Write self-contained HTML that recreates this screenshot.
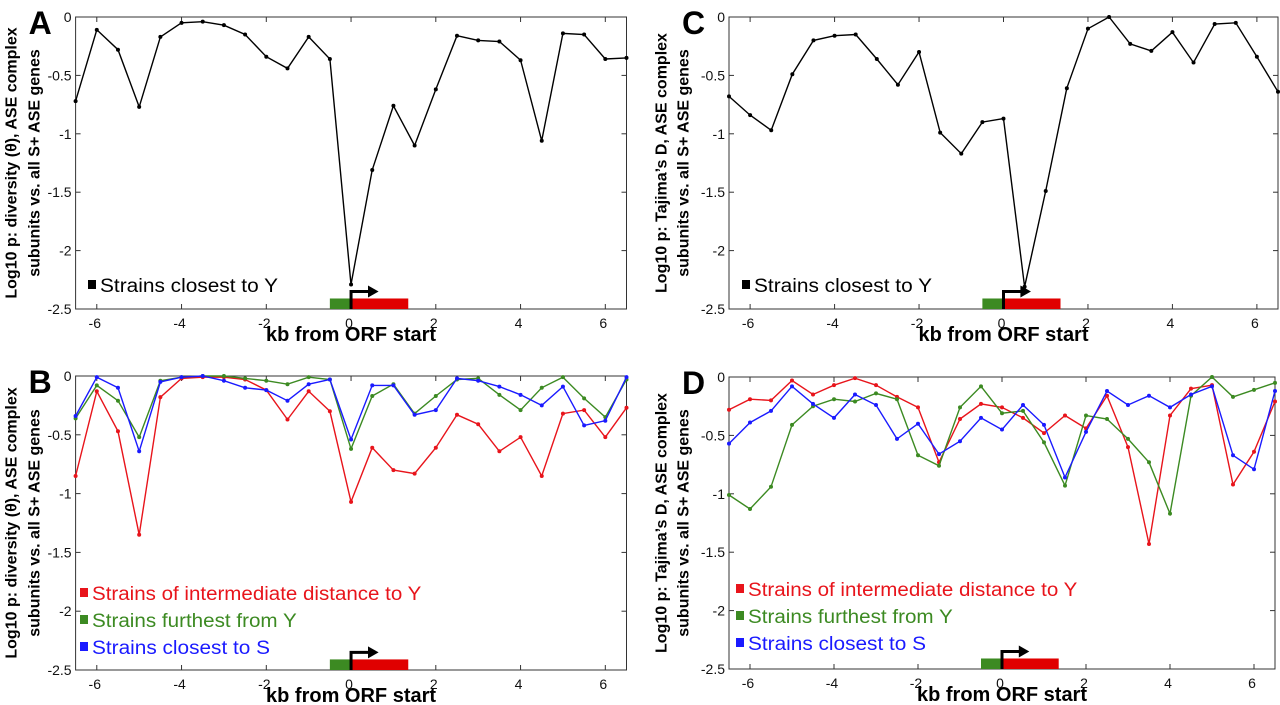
<!DOCTYPE html>
<html><head><meta charset="utf-8"><style>
html,body{margin:0;padding:0;background:#fff}
svg{display:block;font-family:"Liberation Sans",sans-serif}
</style></head><body>
<svg id="fig" width="1280" height="705" viewBox="0 0 1280 705" xmlns="http://www.w3.org/2000/svg"></svg>
<script>
const xs=[-6.5,-6,-5.5,-5,-4.5,-4,-3.5,-3,-2.5,-2,-1.5,-1,-0.5,0,0.5,1,1.5,2,2.5,3,3.5,4,4.5,5,5.5,6,6.5];
const xTicks=[-6,-4,-2,0,2,4,6];
const yTicks=[0,-0.5,-1,-1.5,-2,-2.5];
const aBlack=[-0.72,-0.11,-0.28,-0.77,-0.17,-0.05,-0.04,-0.07,-0.15,-0.34,-0.44,-0.17,-0.36,-2.29,-1.31,-0.76,-1.1,-0.62,-0.16,-0.2,-0.21,-0.37,-1.06,-0.14,-0.15,-0.36,-0.35];
const cBlack=[-0.68,-0.84,-0.97,-0.49,-0.2,-0.16,-0.15,-0.36,-0.58,-0.3,-0.99,-1.17,-0.9,-0.87,-2.31,-1.49,-0.61,-0.1,0,-0.23,-0.29,-0.13,-0.39,-0.06,-0.05,-0.34,-0.64];
const bRed=[-0.85,-0.13,-0.47,-1.35,-0.18,-0.02,-0.01,-0.01,-0.03,-0.12,-0.37,-0.13,-0.3,-1.07,-0.61,-0.8,-0.83,-0.61,-0.33,-0.41,-0.64,-0.52,-0.85,-0.32,-0.29,-0.52,-0.27];
const bGreen=[-0.36,-0.08,-0.21,-0.52,-0.04,-0.01,0,0,-0.02,-0.04,-0.07,-0.01,-0.03,-0.62,-0.17,-0.07,-0.32,-0.17,-0.03,-0.02,-0.16,-0.29,-0.1,-0.01,-0.19,-0.35,-0.03];
const bBlue=[-0.34,-0.01,-0.1,-0.64,-0.05,-0.01,0,-0.04,-0.1,-0.12,-0.21,-0.07,-0.03,-0.54,-0.08,-0.08,-0.33,-0.29,-0.02,-0.04,-0.09,-0.16,-0.25,-0.09,-0.42,-0.38,-0.01];
const dRed=[-0.28,-0.19,-0.2,-0.03,-0.15,-0.07,-0.01,-0.07,-0.17,-0.26,-0.73,-0.36,-0.23,-0.26,-0.35,-0.48,-0.33,-0.44,-0.16,-0.6,-1.43,-0.33,-0.1,-0.07,-0.92,-0.64,-0.21];
const dGreen=[-1.01,-1.13,-0.94,-0.41,-0.25,-0.19,-0.21,-0.14,-0.19,-0.67,-0.76,-0.26,-0.08,-0.31,-0.29,-0.56,-0.93,-0.33,-0.36,-0.53,-0.73,-1.17,-0.16,0,-0.17,-0.11,-0.05];
const dBlue=[-0.57,-0.39,-0.29,-0.08,-0.23,-0.35,-0.15,-0.24,-0.53,-0.4,-0.66,-0.55,-0.35,-0.45,-0.24,-0.41,-0.86,-0.47,-0.12,-0.24,-0.16,-0.26,-0.15,-0.08,-0.67,-0.79,-0.12];

const NS="http://www.w3.org/2000/svg";
const svg=document.getElementById('fig');
function mk(tag,attrs,parent,text){const e=document.createElementNS(NS,tag);for(const k in attrs)e.setAttribute(k,attrs[k]);if(text!==undefined)e.textContent=text;(parent||svg).appendChild(e);return e;}
const RED='#e8141b',GREEN='#3c8a22',BLUE='#1a1aff';
const panels=[
 {id:'a',letter:'A',L:75.6,R:626.5,T:17,B:309,ylab:['Log10 p: diversity (θ), ASE complex','subunits vs. all S+ ASE genes'],lx:[12,35],
  series:[{v:aBlack,c:'#000',n:'closest-to-y'}],legend:[['Strains closest to Y','#000']],legY:292,legX:88},
 {id:'c',letter:'C',L:729,R:1278,T:17,B:309,ylab:['Log10 p: Tajima’s D, ASE complex','subunits vs. all S+ ASE genes'],lx:[662,684],
  series:[{v:cBlack,c:'#000',n:'closest-to-y'}],legend:[['Strains closest to Y','#000']],legY:292,legX:742},
 {id:'b',letter:'B',L:75.6,R:626.5,T:376,B:670,ylab:['Log10 p: diversity (θ), ASE complex','subunits vs. all S+ ASE genes'],lx:[12,35],
  series:[{v:bRed,c:RED,n:'intermediate'},{v:bGreen,c:GREEN,n:'furthest'},{v:bBlue,c:BLUE,n:'closest-to-s'}],
  legend:[['Strains of intermediate distance to Y',RED],['Strains furthest from Y',GREEN],['Strains closest to S',BLUE]],legY:600,legX:80},
 {id:'d',letter:'D',L:729,R:1275,T:377,B:669,ylab:['Log10 p: Tajima’s D, ASE complex','subunits vs. all S+ ASE genes'],lx:[662,684],
  series:[{v:dRed,c:RED,n:'intermediate'},{v:dGreen,c:GREEN,n:'furthest'},{v:dBlue,c:BLUE,n:'closest-to-s'}],
  legend:[['Strains of intermediate distance to Y',RED],['Strains furthest from Y',GREEN],['Strains closest to S',BLUE]],legY:596,legX:736}
];
panels.forEach(p=>{
 const g=mk('g',{});
 
 
 const X=x=>p.L+(x+6.5)/13*(p.R-p.L);
 const Y=y=>p.T+(-y)/2.5*(p.B-p.T);
 const fr=mk('rect',{x:p.L,y:p.T,width:p.R-p.L,height:p.B-p.T,fill:'none',stroke:'#333','stroke-width':1},g);
 
 
 xTicks.forEach(t=>{
  const x=X(t);
  mk('line',{x1:x,x2:x,y1:p.B,y2:p.B-5,stroke:'#333'},g);
  mk('line',{x1:x,x2:x,y1:p.T,y2:p.T+5,stroke:'#333'},g);
  const tl=mk('text',{x:x-2,y:p.B+19,'font-size':14,'text-anchor':'middle',fill:'#111'},g,String(t).replace('-','-'));
  
  
 });
 yTicks.forEach(t=>{
  const y=Y(t);
  mk('line',{x1:p.L,x2:p.L+5,y1:y,y2:y,stroke:'#333'},g);
  mk('line',{x1:p.R,x2:p.R-5,y1:y,y2:y,stroke:'#333'},g);
  const tl=mk('text',{x:p.L-4,y:y+5,'font-size':14,'text-anchor':'end',fill:'#111'},g,String(t));
  
  
 });
 const xl=mk('text',{x:X(0),y:p.B+32,'font-size':20,'font-weight':'bold','text-anchor':'middle'},g,'kb from ORF start');
 
 
 const cy=(p.T+p.B)/2;
 p.ylab.forEach((s,i)=>{
  const yl=mk('text',{x:p.lx[i],y:cy,'font-size':16,'font-weight':'bold','text-anchor':'middle',transform:`rotate(-90 ${p.lx[i]} ${cy})`,'dominant-baseline':'central'},g,s);
  
  
 });
 const lt=mk('text',{x:p.L-47,y:p.T+17,'font-size':32,'font-weight':'bold'},g,p.letter);
 
 
 // gene diagram
 const gb=mk('rect',{x:X(-0.5),y:Y(-2.41),width:X(0)-X(-0.5),height:Y(-2.5)-Y(-2.41),fill:'#3c8a22'},g);
 
 
 const rb=mk('rect',{x:X(0),y:Y(-2.41),width:X(1.35)-X(0),height:Y(-2.5)-Y(-2.41),fill:'#e00000'},g);
 
 
 const ar=mk('path',{d:`M${X(0)} ${Y(-2.5)} V${Y(-2.35)} H${X(0.45)}`,stroke:'#000','stroke-width':3,fill:'none'},g);
 
 
 mk('path',{d:`M${X(0.4)} ${Y(-2.35)-6} L${X(0.65)} ${Y(-2.35)} L${X(0.4)} ${Y(-2.35)+6} Z`,fill:'#000'},g);
 // series
 p.series.forEach(s=>{
  const d=s.v.map((v,i)=>(i?'L':'M')+X(xs[i]).toFixed(1)+' '+Y(v).toFixed(1)).join(' ');
  const ln=mk('path',{d:d,stroke:s.c,'stroke-width':1.4,fill:'none'},g);
  
  
  s.v.forEach((v,i)=>{
   const pt=mk('circle',{cx:X(xs[i]),cy:Y(v),r:2,fill:s.c},g);
   
   
  });
 });
 p.legend.forEach((l,i)=>{
  const y=p.legY+i*27;
  const sq=mk('rect',{x:p.legX,y:y-12,width:8,height:9,fill:l[1]},g);
  
  
  const tx=mk('text',{x:p.legX+12,y:y,'font-size':19,fill:l[1],textLength:l[0].length*8.9,lengthAdjust:'spacingAndGlyphs'},g,l[0]);
  
  
 });
});
</script>
</body></html>
